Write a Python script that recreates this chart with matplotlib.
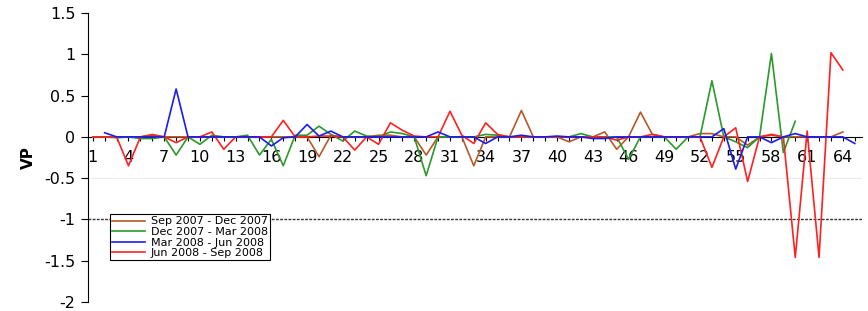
import matplotlib
matplotlib.use("Agg")
import matplotlib.pyplot as plt
import numpy as np

nan = np.nan

periods = ["Sep 2007 - Dec 2007", "Dec 2007 - Mar 2008",
           "Mar 2008 - Jun 2008", "Jun 2008 - Sep 2008"]
x = np.arange(1, 66)

sep_dec = [0, 0, 0, 0, 0, 0.03, 0, 0, 0, 0,
           0, 0, 0, 0, 0, 0, 0, 0, 0, -0.24,
           0.02, 0, 0, 0, 0.02, 0.02, 0, 0, -0.22, 0,
           0, 0, -0.35, 0, 0, 0, 0.32, 0, 0, 0,
           -0.06, 0, 0, 0.06, -0.15, 0, 0.3, 0.03, 0, 0,
           0, 0.04, 0.04, 0, 0, -0.1, 0, 0.02, 0, 0,
           0, 0, 0, 0.06, nan]

dec_mar = [0, 0, -0.01, 0, -0.02, -0.02, 0, -0.22, 0, -0.09,
           0.02, 0, 0, 0.02, -0.22, -0.03, -0.35, 0.02, 0.02, 0.13,
           0.03, -0.05, 0.07, 0.01, 0, 0.06, 0.04, 0, -0.47, 0,
           0, 0, 0, 0.03, 0.02, 0, 0, 0, 0, 0,
           0, 0.04, 0, 0, 0, -0.27, 0, 0, 0, -0.15,
           0, 0, 0.68, 0, -0.06, -0.13, 0, 1.01, -0.19, 0.19,
           nan, nan, nan, nan, nan]

mar_jun = [nan, 0.05, 0, 0, 0, 0, 0, 0.58, 0, 0,
           0, 0, 0, 0, 0, -0.11, -0.01, 0, 0.15, 0.01,
           0.07, 0, 0, 0, 0, 0, 0, 0, 0, 0.06,
           0, 0, 0, -0.08, 0, 0, 0.02, 0, 0, 0.01,
           0, 0, -0.02, -0.02, 0, 0, 0, 0, 0, 0,
           0, 0, 0, 0.1, -0.39, 0, 0, -0.07, 0, 0.04,
           0, 0, 0, 0, -0.08]

jun_sep = [0, 0, 0, -0.35, 0, 0.02, 0, -0.07, 0, 0,
           0.06, -0.15, 0, 0, 0, 0, 0.2, 0, 0, 0.01,
           0.01, 0, -0.16, 0, -0.09, 0.17, 0.08, 0.01, 0, 0,
           0.31, 0.02, -0.08, 0.17, 0.03, 0, 0, 0, 0, 0,
           0, 0, 0, 0, -0.04, 0, 0, 0.03, 0, 0,
           0, 0, -0.37, 0.0, 0.11, -0.54, 0, 0.03, 0, -1.46,
           0.07, -1.46, 1.02, 0.81, nan]

series = [sep_dec, dec_mar, mar_jun, jun_sep]
colors = ["#b5592a", "#2a9a2a", "#1c1cf0", "#ff2020"]
# blue drawn last so the zero stretches read blue, as in the original
order = [3, 4, 5, 4]

y_ticks = [-2, -1.5, -1, -0.5, 0, 0.5, 1, 1.5]
y_labels = ["-2", "-1.5", "-1", "-0.5", "0", "0.5", "1", "1.5"]

plt.rcParams["font.family"] = ["DejaVu Sans"]

fig = plt.figure(figsize=(8.68, 3.11), dpi=100)
ax = fig.add_axes([0.1014, 0.029, 0.8916, 0.929])

ax.axhline(-0.5, color="#ececec", lw=0.8, zorder=0)
ax.axhline(-1, color="#333333", lw=1.0, ls=(0, (2, 1)), zorder=1)

for vals, lab, col, z in zip(series, periods, colors, order):
    ax.plot(x, vals, color=col, lw=1.2, label=lab, zorder=z)

ax.set_xlim(0.6, 65.6)
ax.set_ylim(-2, 1.5)

ax.spines["top"].set_visible(False)
ax.spines["right"].set_visible(False)
ax.spines["bottom"].set_position(("data", 0))
ax.spines["bottom"].set_zorder(2)

ax.set_xticks(x)
ax.set_xticklabels([str(v) if (v - 1) % 3 == 0 else "" for v in x])
ax.tick_params(axis="x", length=3, width=0.8, pad=6.5, labelsize=11.5)
ax.set_yticks(y_ticks)
ax.set_yticklabels(y_labels)
ax.tick_params(axis="y", length=5, width=0.8, pad=4, labelsize=11.5)

ax.set_ylabel("VP", fontsize=11, fontweight="bold", labelpad=6)

leg = ax.legend(loc="lower left", bbox_to_anchor=(0.028, 0.145),
                borderaxespad=0, fontsize=8, fancybox=False,
                edgecolor="black", framealpha=1, handlelength=3.0,
                handletextpad=0.5, labelspacing=0.05, borderpad=0.18)
leg.get_frame().set_linewidth(0.8)

fig.savefig("out.png", dpi=100)
